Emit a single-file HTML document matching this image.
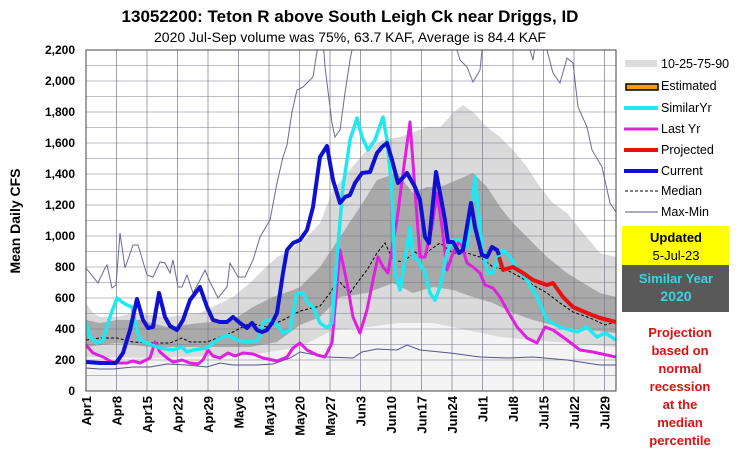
<!DOCTYPE html>
<html><head><meta charset="utf-8"><style>
body{margin:0;background:#fff;}
svg text{font-family:"Liberation Sans",Arial,sans-serif;}
</style></head><body>
<svg width="743" height="454" viewBox="0 0 743 454" xmlns="http://www.w3.org/2000/svg">
<rect width="743" height="454" fill="#fff"/>
<text x="350" y="22" font-size="17" font-weight="bold" text-anchor="middle">13052200: Teton R above South Leigh Ck near Driggs, ID</text>
<text x="350" y="42" font-size="14" text-anchor="middle">2020 Jul-Sep volume was 75%, 63.7 KAF, Average is 84.4 KAF</text>
<clipPath id="c"><rect x="86" y="50" width="530" height="341"/></clipPath>
<g clip-path="url(#c)">
<rect x="86" y="50" width="530" height="341" fill="#fff"/>
<polygon fill="#f4f4f4" points="86,357 150,358 250,355 300,347 333,330 367,327 400,323 433,323 467,330 500,337 533,340 567,343 616,347 616,391 86,391"/>
<polygon fill="#dadada" points="86,303 93,313 100,317 117,317 133,313 167,317 200,313 233,297 250,283 263,270 277,257 290,250 307,237 320,223 333,190 347,173 367,150 383,140 400,137 427,127 440,127 453,113 463,105 473,112 487,127 500,137 513,150 527,167 540,187 553,203 567,213 583,233 600,253 616,257 616,347 567,343 533,340 500,337 467,330 433,323 400,323 367,327 333,330 300,347 250,355 150,358 86,357"/>
<polygon fill="#a9a9a9" points="86,320 100,323 117,320 140,320 167,327 200,323 233,320 253,307 273,297 293,290 300,287 320,267 340,237 360,207 377,180 397,173 413,193 427,187 440,187 457,180 473,173 487,187 500,207 513,223 530,240 547,257 567,273 583,283 600,293 616,297 616,333 587,330 560,327 533,320 513,313 493,303 473,297 453,290 433,287 413,293 393,283 367,293 340,297 320,317 300,325 277,342 250,347 150,347 117,343 86,347"/>
<g stroke="#7a7a8a">
<path d="M86,375.5H616M86,360H616M86,344.5H616M86,329H616M86,313.5H616M86,298H616M86,282.5H616M86,267H616M86,251.5H616M86,236H616M86,220.5H616M86,205H616M86,189.5H616M86,174H616M86,158.5H616M86,143H616M86,127.5H616M86,112H616M86,96.5H616M86,81H616M86,65.5H616M86,50H616" stroke-width="0.6"/>
<path d="M116.5,50V391M147,50V391M177.5,50V391M208,50V391M238.5,50V391M269,50V391M299.5,50V391M330,50V391M360.5,50V391M391,50V391M421.5,50V391M452,50V391M482.5,50V391M513,50V391M543.5,50V391M574,50V391M604.5,50V391" stroke-width="0.7"/>
</g>
<polyline fill="none" stroke="#55558a" stroke-width="1" points="86,368 100,369 113,369 133,367 150,367 167,364 187,365 207,367 220,363 233,365 257,365 273,364 290,358 300,352 327,357 353,358 362,352 377,349 397,350 407,345 420,350 450,353 480,357 507,358 533,357 567,360 600,365 616,365"/>
<polyline fill="none" stroke="#6a6a9a" stroke-width="1" points="86,268 98,283 105,268 107,265 112,288 116,285 120,233 125,268 133,245 138,245 147,275 153,277 160,262 165,263 170,273 173,260 178,287 182,287 187,275 193,293 200,280 205,270 210,282 218,298 227,287 230,263 238,277 245,277 253,260 260,237 270,220 277,183 283,157 287,145 292,112 297,90 303,87 313,77 318,45 323,40 325,67 332,123 335,137 340,130 345,93 350,60 354,40 455,40 457,50 460,60 467,67 473,82 480,70 483,40 528,40 530,50 533,60 536,40 545,40 547,50 553,73 560,83 567,58 573,63 578,107 587,127 592,150 602,167 610,203 616,212"/>
<polyline fill="none" stroke="#000" stroke-width="1" stroke-dasharray="3,2" points="86,340 100,338 117,338 133,342 150,343 170,343 182,338 190,342 207,342 233,332 250,323 267,327 283,320 300,311 320,306 330,293 338,280 350,293 357,283 367,270 377,253 385,243 393,260 403,262 415,252 423,258 430,250 440,243 453,253 467,253 480,257 493,267 507,270 520,277 533,285 547,293 560,303 573,312 590,318 605,325 616,322"/>
<polyline fill="none" stroke="#e020e0" stroke-width="3" stroke-linejoin="round" points="86,345 93,353 103,357 112,362 120,363 127,363 133,361 140,363 150,358 155,342 160,352 167,358 173,362 182,360 190,363 198,364 203,360 208,350 213,356 220,358 228,353 235,356 243,353 253,354 263,358 277,361 287,357 293,348 300,343 307,350 317,355 325,357 332,343 340,250 347,283 353,317 360,333 367,310 373,280 378,257 383,267 388,273 397,220 403,173 410,122 415,190 420,257 425,257 432,227 437,193 442,227 447,270 453,253 460,240 467,263 473,267 480,273 485,285 493,288 500,297 507,310 517,327 527,338 537,343 545,327 553,330 567,340 580,350 593,352 616,357"/>
<polyline fill="none" stroke="#20e8f0" stroke-width="3.5" stroke-linejoin="round" points="86,322 90,337 97,343 103,340 110,317 117,298 122,302 127,305 132,307 135,323 140,340 147,343 160,348 173,350 182,347 187,352 193,350 207,348 217,340 227,335 237,340 247,342 258,340 263,323 267,320 272,320 277,325 283,333 290,330 297,293 303,293 307,302 313,307 320,323 327,328 332,323 337,257 343,187 350,140 357,118 362,137 368,150 375,140 383,117 387,140 392,190 395,273 400,290 405,260 410,227 413,257 418,260 425,273 430,293 435,300 440,287 447,253 453,240 460,240 467,247 472,207 475,177 478,207 482,247 488,273 493,273 498,257 503,250 510,257 518,270 527,280 537,297 547,320 560,327 577,332 587,327 597,337 605,333 616,340"/>
<polyline fill="none" stroke="#e81010" stroke-width="4" stroke-linejoin="round" points="499,257 503,270 513,267 523,273 533,280 547,285 553,283 563,297 573,307 587,313 600,318 616,322"/>
<polyline fill="none" stroke="#1010d0" stroke-width="4" stroke-linejoin="round" points="86,362 100,363 116,363 123,353 130,330 137,299 143,320 148,328 153,327 159,293 165,317 170,326 177,330 183,320 190,300 200,287 207,307 213,320 220,322 227,322 233,317 240,323 247,328 252,323 257,330 262,332 267,330 272,323 277,313 283,273 287,250 293,243 300,240 307,230 313,207 320,157 327,146 333,180 340,203 345,197 350,195 355,183 362,173 370,172 377,153 382,147 387,143 392,160 398,183 407,173 415,187 420,200 425,237 429,243 436,172 440,193 445,220 448,242 453,242 459,253 463,250 471,203 475,227 482,255 487,257 492,247 497,250 499,255"/>
</g>
<rect x="86" y="50" width="530" height="341" fill="none" stroke="#444" stroke-width="1"/>
<g font-size="12" font-weight="bold" text-anchor="end">
<text x="75" y="395">0</text><text x="75" y="364">200</text><text x="75" y="333">400</text><text x="75" y="302">600</text><text x="75" y="271">800</text><text x="75" y="240">1,000</text><text x="75" y="209">1,200</text><text x="75" y="178">1,400</text><text x="75" y="147">1,600</text><text x="75" y="116">1,800</text><text x="75" y="85">2,000</text><text x="75" y="54">2,200</text>
</g>
<text transform="translate(20,221) rotate(-90)" font-size="14" font-weight="bold" text-anchor="middle">Mean Daily CFS</text>
<g font-size="13" font-weight="bold" text-anchor="end">
<text transform="translate(91,396) rotate(-90)">Apr1</text>
<text transform="translate(121.5,396) rotate(-90)">Apr8</text>
<text transform="translate(152,396) rotate(-90)">Apr15</text>
<text transform="translate(182.5,396) rotate(-90)">Apr22</text>
<text transform="translate(213,396) rotate(-90)">Apr29</text>
<text transform="translate(243.5,396) rotate(-90)">May6</text>
<text transform="translate(274,396) rotate(-90)">May13</text>
<text transform="translate(304.5,396) rotate(-90)">May20</text>
<text transform="translate(335,396) rotate(-90)">May27</text>
<text transform="translate(365.5,396) rotate(-90)">Jun3</text>
<text transform="translate(396,396) rotate(-90)">Jun10</text>
<text transform="translate(426.5,396) rotate(-90)">Jun17</text>
<text transform="translate(457,396) rotate(-90)">Jun24</text>
<text transform="translate(487.5,396) rotate(-90)">Jul1</text>
<text transform="translate(518,396) rotate(-90)">Jul8</text>
<text transform="translate(548.5,396) rotate(-90)">Jul15</text>
<text transform="translate(579,396) rotate(-90)">Jul22</text>
<text transform="translate(609.5,396) rotate(-90)">Jul29</text>
</g>
<g font-size="12.5">
<rect x="625" y="60" width="32" height="7" fill="#dcdcdc"/><text x="661" y="68">10-25-75-90</text>
<rect x="626" y="84" width="32" height="6" fill="#f0a000" stroke="#000" stroke-width="1.5"/><text x="661" y="90">Estimated</text>
<line x1="624" y1="108" x2="658" y2="108" stroke="#20e8f0" stroke-width="4"/><text x="661" y="112">SimilarYr</text>
<line x1="624" y1="129" x2="658" y2="129" stroke="#e020e0" stroke-width="3"/><text x="661" y="133">Last Yr</text>
<line x1="624" y1="150" x2="658" y2="150" stroke="#e81010" stroke-width="4"/><text x="661" y="154">Projected</text>
<line x1="624" y1="171" x2="658" y2="171" stroke="#1010d0" stroke-width="4"/><text x="661" y="175">Current</text>
<line x1="625" y1="191" x2="658" y2="191" stroke="#000" stroke-width="1" stroke-dasharray="3,2"/><text x="661" y="195">Median</text>
<line x1="625" y1="212" x2="658" y2="212" stroke="#55558a" stroke-width="1"/><text x="661" y="216">Max-Min</text>
</g>
<rect x="622" y="226" width="107" height="39" fill="#ffff00"/>
<text x="676" y="242" font-size="13" font-weight="bold" text-anchor="middle">Updated</text>
<text x="676" y="260" font-size="13" text-anchor="middle">5-Jul-23</text>
<rect x="622" y="265" width="107" height="47" fill="#595959"/>
<text x="676" y="283" font-size="13" font-weight="bold" fill="#30d8e0" text-anchor="middle">Similar Year</text>
<text x="676" y="301" font-size="14" font-weight="bold" fill="#30d8e0" text-anchor="middle">2020</text>
<g font-size="13" font-weight="bold" fill="#e01010" text-anchor="middle">
<text x="680" y="337">Projection</text><text x="680" y="355">based on</text><text x="680" y="373">normal</text><text x="680" y="391">recession</text><text x="680" y="409">at the</text><text x="680" y="427">median</text><text x="680" y="445">percentile</text>
</g>
</svg>
</body></html>
